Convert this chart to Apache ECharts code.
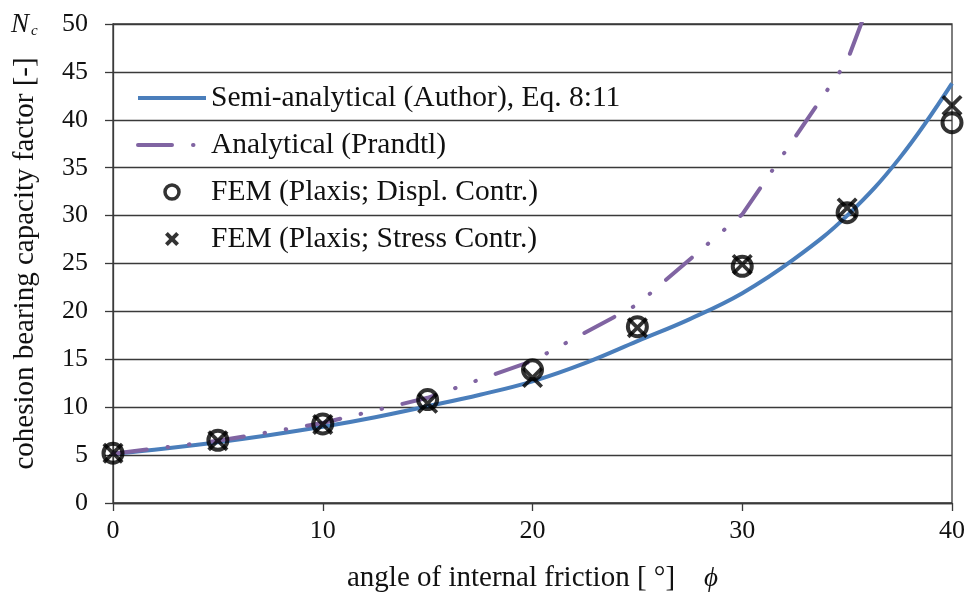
<!DOCTYPE html>
<html>
<head>
<meta charset="utf-8">
<script src="https://cdn.jsdelivr.net/npm/echarts@6/dist/echarts.min.js"></script>
<style>
  html, body { margin: 0; padding: 0; background: #fff; }
  #chart { width: 969px; height: 604px; }
</style>
</head>
<body>
<div id="chart"></div>
<script>
// Friction angle phi [deg] at which each data set is given
const phiSemi = [0, 2.5, 5, 7.5, 10, 12.5, 15, 17.5, 20, 22.5, 25, 27.5, 30, 32.5, 35, 37.5, 40];
const ncSemi  = [5.14, 5.7, 6.35, 7.1, 7.95, 8.95, 10.1, 11.3, 12.7, 14.6, 16.9, 19.2, 21.9, 25.5, 30.0, 36.0, 43.8];

const phiPrandtl = [0, 5, 10, 15, 20, 25, 30, 35, 40];
const ncPrandtl  = [5.14, 6.49, 8.35, 10.98, 14.83, 20.72, 30.14, 46.12, 75.31];

const phiFem = [0, 5, 10, 15, 20, 25, 30, 35, 40];
const ncFemDispl  = [5.2, 6.55, 8.25, 10.8, 13.9, 18.4, 24.7, 30.3, 39.7];
const ncFemStress = [5.2, 6.5, 8.2, 10.4, 13.1, 18.3, 24.9, 30.8, 41.5];

const xTicks = { min: 0, max: 40, interval: 10 };
const yTicks = { min: 0, max: 50, interval: 5 };

const seriesNames = [
  'Semi-analytical (Author), Eq. 8:11',
  'Analytical (Prandtl)',
  'FEM (Plaxis; Displ. Contr.)',
  'FEM (Plaxis; Stress Contr.)'
];

const pair = (xs, ys) => xs.map((x, i) => [x, ys[i]]);

const SERIF = '"Liberation Serif", "Times New Roman", serif';
const INK = '#111';
const GRIDLINE = '#3a3a3a';
const BLUE = '#4a7ebb';
const PURPLE = '#8064a2';
const DASH_DOT_DOT = [34, 21, 0.5, 21, 0.5, 21];

// bold X markers drawn as filled polygons (plot marker and heavier legend glyph)
const crossPath = 'path://M0,2.5 L2.5,0 L10,7.5 L17.5,0 L20,2.5 L12.5,10 L20,17.5 L17.5,20 L10,12.5 L2.5,20 L0,17.5 L7.5,10 Z';
const crossIcon = 'path://M0,4 L4,0 L10,6 L16,0 L20,4 L14,10 L20,16 L16,20 L10,14 L4,20 L0,16 L6,10 Z';

const chart = echarts.init(document.getElementById('chart'), null, { renderer: 'canvas' });

chart.setOption({
  animation: false,
  backgroundColor: '#fff',
  textStyle: { fontFamily: SERIF, color: INK },
  grid: {
    left: 113, right: 17, top: 24, bottom: 101,
    show: true, borderColor: GRIDLINE, borderWidth: 1.3, backgroundColor: 'transparent'
  },
  legend: {
    orient: 'vertical',
    left: 131, top: 78,
    itemWidth: 68, itemHeight: 14,
    itemGap: 17,
    data: [
      { name: seriesNames[0], itemStyle: { opacity: 0 },
        lineStyle: { color: BLUE, width: 4 } },
      { name: seriesNames[1], itemStyle: { opacity: 0 },
        lineStyle: { color: PURPLE, width: 4, cap: 'round', type: DASH_DOT_DOT } },
      { name: seriesNames[2], icon: 'circle',
        itemStyle: { color: 'rgba(0,0,0,0)', borderColor: '#000', borderWidth: 3.5 } },
      { name: seriesNames[3], icon: crossIcon,
        itemStyle: { color: '#000', borderWidth: 0 } }
    ],
    textStyle: { fontFamily: SERIF, fontSize: 29.5, color: INK }
  },
  xAxis: {
    type: 'value',
    min: xTicks.min, max: xTicks.max, interval: xTicks.interval,
    axisLine: { lineStyle: { color: GRIDLINE, width: 1.3 } },
    axisTick: { show: true, length: 8, lineStyle: { color: GRIDLINE, width: 1.3 } },
    axisLabel: { fontFamily: SERIF, fontSize: 26, color: INK, margin: 15 },
    splitLine: { show: false },
    name: 'angle of internal friction [ °]    {phi|ϕ}',
    nameLocation: 'middle',
    nameGap: 61,
    nameTextStyle: {
      fontFamily: SERIF, fontSize: 29, color: INK,
      rich: { phi: { fontFamily: SERIF, fontStyle: 'italic', fontSize: 27, color: INK } }
    }
  },
  yAxis: {
    type: 'value',
    min: yTicks.min, max: yTicks.max, interval: yTicks.interval,
    axisLine: { show: true, lineStyle: { color: GRIDLINE, width: 1.3 } },
    axisTick: { show: true, length: 8, lineStyle: { color: GRIDLINE, width: 1.3 } },
    axisLabel: { fontFamily: SERIF, fontSize: 26, color: INK, margin: 25 },
    splitLine: { show: true, lineStyle: { color: GRIDLINE, width: 1.3 } },
    name: 'cohesion bearing capacity factor [-]',
    nameLocation: 'middle',
    nameGap: 73,
    nameTextStyle: { fontFamily: SERIF, fontSize: 29, color: INK }
  },
  graphic: [
    {
      type: 'text', left: 11, top: 11,
      style: {
        text: '{n|N}{c|c}',
        rich: {
          n: { fontFamily: SERIF, fontStyle: 'italic', fontSize: 27, fill: INK },
          c: { fontFamily: SERIF, fontStyle: 'italic', fontSize: 15, fill: INK, padding: [14, 0, 0, 2] }
        }
      }
    }
  ],
  series: [
    {
      name: seriesNames[0],
      type: 'line',
      data: pair(phiSemi, ncSemi),
      smooth: 0.4,
      symbol: 'none',
      lineStyle: { color: BLUE, width: 4 },
      itemStyle: { color: BLUE },
      z: 2
    },
    {
      name: seriesNames[1],
      type: 'line',
      data: pair(phiPrandtl, ncPrandtl),
      symbol: 'none',
      lineStyle: { color: PURPLE, width: 4, cap: 'round', type: DASH_DOT_DOT },
      itemStyle: { color: PURPLE },
      z: 3
    },
    {
      name: seriesNames[2],
      type: 'scatter',
      data: pair(phiFem, ncFemDispl),
      symbol: 'circle',
      symbolSize: 19,
      itemStyle: { color: 'rgba(0,0,0,0)', borderColor: '#000', borderWidth: 4 },
      z: 4
    },
    {
      name: seriesNames[3],
      type: 'scatter',
      data: pair(phiFem, ncFemStress),
      symbol: crossPath,
      symbolSize: 21,
      itemStyle: { color: '#000' },
      z: 5
    }
  ]
});
</script>
</body>
</html>
